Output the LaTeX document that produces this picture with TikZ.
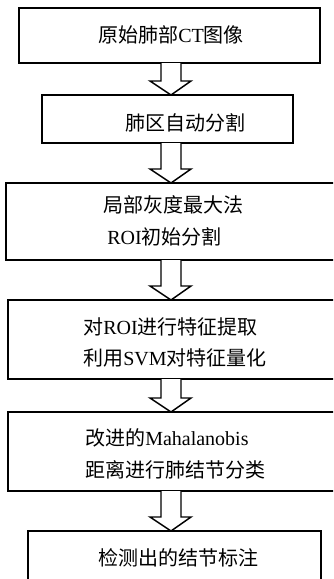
\documentclass[tikz,border=0pt]{standalone}
\usepackage{fontspec}
\setmainfont{Liberation Serif}
\newfontfamily\cjk{Noto Sans CJK SC}
\newcommand\zh[1]{{\cjk #1}}
\usetikzlibrary{fit,calc}
\tikzset{
  box/.style={draw=black, line width=1.2pt, inner sep=0pt, outer sep=0pt},
  txt/.style={inner sep=0pt, anchor=west, font=\fontsize{15pt}{18pt}\selectfont},
  blockarr/.style={draw=black, line width=1.1pt, fill=white, line join=miter}
}
\newcommand\blockarrow[2]{%
  \draw[blockarr] let \p1=(#1.south), \p2=(#2.north) in
    (120.75pt,\y1) -- (120.75pt,\y2+10.5pt) -- (112.5pt,\y2+10.5pt) --
    (128.25pt,\y2) -- (143.25pt,\y2+10.5pt) -- (135.75pt,\y2+10.5pt) --
    (135.75pt,\y1);}
\begin{document}
\begin{tikzpicture}[x=0.75pt, y=-0.75pt]
\fill[white] (0,0) rectangle (333,579);
\clip (0,0) rectangle (333,579);
% boxes
\node[box, fit={(19,8) (320,63)}] (b1) {};
\node[box, fit={(42,95) (293,143)}] (b2) {};
\node[box, fit={(6,183) (345,260)}] (b3) {};
\node[box, fit={(8,300) (345,379)}] (b4) {};
\node[box, fit={(8,412) (345,491)}] (b5) {};
\node[box, fit={(28,531) (321,600)}] (b6) {};
% texts
\node[txt] (t1) at (98,35) {\zh{原始肺部}CT\zh{图像}};
\node[txt] (t2) at (125,123) {\zh{肺区自动分割}};
\node[txt] (t3a) at (103,205) {\zh{局部灰度最大法}};
\node[txt] (t3b) at (107,237) {ROI\zh{初始分割}};
\node[txt] (t4a) at (83,327) {\zh{对}ROI\zh{进行特征提取}};
\node[txt] (t4b) at (83,358) {\zh{利用}SVM\zh{对特征量化}};
\node[txt] (t5a) at (85,438) {\zh{改进的}Mahalanobis};
\node[txt] (t5b) at (85,470) {\zh{距离进行肺结节分类}};
\node[txt] (t6) at (98,558) {\zh{检测出的结节标注}};
% arrows
\blockarrow{b1}{b2}
\blockarrow{b2}{b3}
\blockarrow{b3}{b4}
\blockarrow{b4}{b5}
\blockarrow{b5}{b6}
\end{tikzpicture}
\end{document}
